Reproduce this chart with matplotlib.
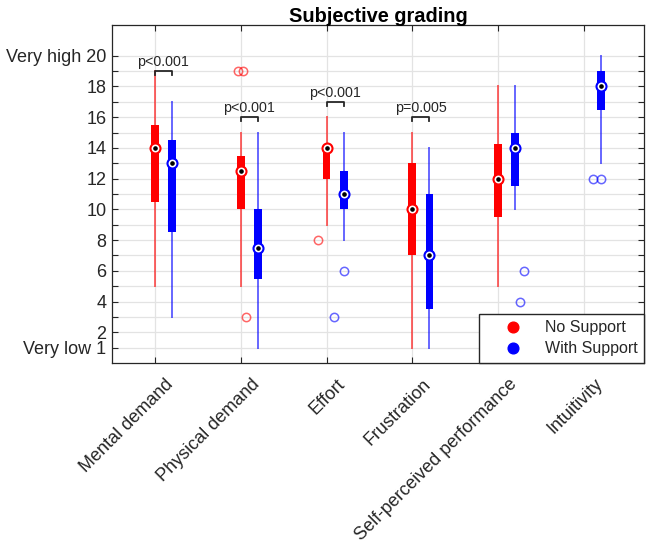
import matplotlib
matplotlib.use("Agg")
import matplotlib.pyplot as plt
from matplotlib.lines import Line2D
from matplotlib.transforms import ScaledTranslation

plt.rcParams['font.family'] = ['Liberation Sans', 'DejaVu Sans']

categories = ["Mental demand", "Physical demand", "Effort", "Frustration",
              "Self-perceived performance", "Intuitivity"]

# No Support (red) - first five categories
ns_whislo = [5, 5, 9, 1, 5]
ns_q1 = [10.5, 10, 12, 7, 9.5]
ns_med = [14, 12.5, 14, 10, 12]
ns_q3 = [15.5, 13.5, 14, 13, 14.25]
ns_whishi = [19, 15, 16, 15, 18]
ns_fliers = [[], [19, 19, 3], [8], [], []]

# With Support (blue) - all six categories
ws_whislo = [3, 1, 8, 1, 10, 13]
ws_q1 = [8.5, 5.5, 10, 3.5, 11.5, 16.5]
ws_med = [13, 7.5, 11, 7, 14, 18]
ws_q3 = [14.5, 10, 12.5, 11, 15, 19]
ws_whishi = [17, 15, 15, 14, 18, 20]
ws_fliers = [[], [], [6, 3], [], [6, 4], [12, 12]]

# significance annotations
sig_idx = [0, 1, 2, 3]
sig_y = [19, 16, 17, 16]
sig_text = ["p<0.001", "p<0.001", "p<0.001", "p=0.005"]

ytick_vals = list(range(1, 21))
ytick_labels = {1: "Very low 1", 2: "2", 4: "4", 6: "6", 8: "8", 10: "10",
                12: "12", 14: "14", 16: "16", 18: "18", 20: "Very high 20"}

# styling (not data)
ns_jitter = [[], [-0.03, 0.03, 0.065], [-0.105], [], []]
ws_jitter = [[], [], [0.0, -0.115], [], [0.1, 0.055], [-0.1, 0.0]]
offset = 0.2
RED = (1, 0, 0)
BLUE = (0, 0, 1)
DARK = "#262626"

fig = plt.figure(figsize=(6.46, 5.53), dpi=100)
ax = fig.add_axes([112/646, 1-363/553, (644-112)/646, (363-25)/553])

def stats(lo, q1, med, q3, hi):
    return [dict(whislo=a, q1=b, med=c, q3=d, whishi=e, fliers=[])
            for a, b, c, d, e in zip(lo, q1, med, q3, hi)]

def draw(st, positions, color, fliers, jitter):
    ax.bxp(st, positions=positions, widths=0.09, patch_artist=True,
           showcaps=False, showfliers=False,
           boxprops=dict(facecolor=color, edgecolor=color, linewidth=0),
           whiskerprops=dict(color=color, alpha=0.6, linewidth=1.4),
           medianprops=dict(linewidth=0), zorder=3)
    meds = [s['med'] for s in st]
    ax.plot(positions, meds, 'o', ms=7.2, mfc='white', mec=color, mew=1.5, zorder=5)
    ax.plot(positions, meds, 'o', ms=2.3, mfc='black', mec='black', zorder=6)
    for p, fl, jt in zip(positions, fliers, jitter):
        if fl:
            ax.plot([p + j for j in jt], fl, 'o', ms=6, mfc='none', mec=color,
                    mew=1.1, alpha=0.6, zorder=4)

ns_pos = [i + 1 for i in range(len(ns_med))]
ws_pos = [i + 1 + offset for i in range(len(ws_med))]
draw(stats(ns_whislo, ns_q1, ns_med, ns_q3, ns_whishi), ns_pos, RED, ns_fliers, ns_jitter)
draw(stats(ws_whislo, ws_q1, ws_med, ws_q3, ws_whishi), ws_pos, BLUE, ws_fliers, ws_jitter)

for i, y, t in zip(sig_idx, sig_y, sig_text):
    x0, x1 = i + 1, i + 1 + offset
    ax.plot([x0, x0, x1, x1], [y - 0.27, y, y, y - 0.27], color=DARK, lw=1.3, zorder=6)
    ax.text((x0 + x1) / 2, y + 0.15, t, ha='center', va='bottom', fontsize=10.3,
            color=DARK)

ax.set_xlim(0.5, 6.7)
ax.set_ylim(0, 22)
ax.set_yticks(ytick_vals)
ax.set_yticklabels([ytick_labels.get(v, "") for v in ytick_vals], fontsize=13,
                   color=DARK)
ax.tick_params(direction='in', length=4, width=0.8, color=DARK,
               top=True, right=True, pad=4)
ax.set_xticks(range(1, len(categories) + 1))
ax.set_xticklabels(categories, rotation=45, ha='right', va='top',
                   rotation_mode='anchor', fontsize=13, color=DARK)
shift = ScaledTranslation(10/100, -7/100, fig.dpi_scale_trans)
for lab in ax.get_xticklabels():
    lab.set_transform(lab.get_transform() + shift)
ax.grid(True, color='#e3e3e3', linewidth=0.9, zorder=0)
ax.set_axisbelow(True)
for s in ax.spines.values():
    s.set_color(DARK)
    s.set_linewidth(0.9)

ax.set_title("Subjective grading", fontsize=14.4, fontweight='bold', pad=2.5,
             color='black')

handles = [Line2D([], [], marker='o', ls='none', ms=7.7, mfc=RED, mec=RED),
           Line2D([], [], marker='o', ls='none', ms=7.7, mfc=BLUE, mec=BLUE)]
leg = ax.legend(handles, ["No Support", "With Support"], loc='lower right',
                fontsize=11.5, frameon=True, fancybox=False, borderaxespad=0,
                handletextpad=0.3, borderpad=0.42, labelspacing=0.38,
                handlelength=3.4)
leg.get_frame().set_edgecolor(DARK)
leg.get_frame().set_linewidth(1.0)
leg.get_frame().set_alpha(1)
for t in leg.get_texts():
    t.set_color(DARK)

fig.savefig("out.png", dpi=100)
